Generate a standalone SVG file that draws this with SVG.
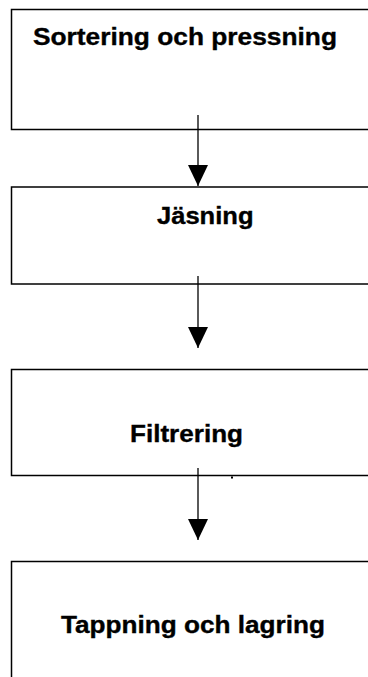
<svg xmlns="http://www.w3.org/2000/svg" width="368" height="677" viewBox="0 0 368 677">
  <style>
    .box { fill: #ffffff; stroke: #000000; stroke-width: 1.5; }
    .label { font-family: "Liberation Sans", Arial, sans-serif; font-weight: bold; font-size: 23.5px; fill: #000000; stroke: #000000; stroke-width: 0.35; }
    .link { stroke: #000000; stroke-width: 1.3; fill: none; }
  </style>
  <defs>
    <marker id="head" viewBox="0 0 21 20" refX="21" refY="10" markerWidth="21" markerHeight="20" markerUnits="userSpaceOnUse" orient="auto">
      <path d="M0,0 L21,10 L0,20 Z" fill="#000000"/>
    </marker>
  </defs>
  <rect width="368" height="677" fill="#ffffff"/>

  <g id="node-sortering">
    <rect class="box" x="11.5" y="9.5" width="370" height="120"/>
    <text class="label" x="33" y="45" textLength="304" lengthAdjust="spacingAndGlyphs">Sortering och pressning</text>
  </g>

  <g id="node-jasning">
    <rect class="box" x="11.5" y="187" width="370" height="97"/>
    <text class="label" x="157" y="223.5" textLength="96.5" lengthAdjust="spacingAndGlyphs">Jäsning</text>
  </g>

  <g id="node-filtrering">
    <rect class="box" x="11.5" y="369.5" width="370" height="106"/>
    <text class="label" x="130" y="442" textLength="113" lengthAdjust="spacingAndGlyphs">Filtrering</text>
    <rect x="231" y="476.5" width="2" height="2" fill="#000000"/>
  </g>

  <g id="node-tappning">
    <rect class="box" x="11.5" y="561.5" width="370" height="130"/>
    <text class="label" x="61" y="632.5" textLength="264" lengthAdjust="spacingAndGlyphs">Tappning och lagring</text>
  </g>

  <g id="connectors">
    <line class="link" x1="198" y1="115" x2="198" y2="186" marker-end="url(#head)"/>
    <line class="link" x1="198" y1="276" x2="198" y2="348" marker-end="url(#head)"/>
    <line class="link" x1="198" y1="468" x2="198" y2="540" marker-end="url(#head)"/>
  </g>
</svg>
